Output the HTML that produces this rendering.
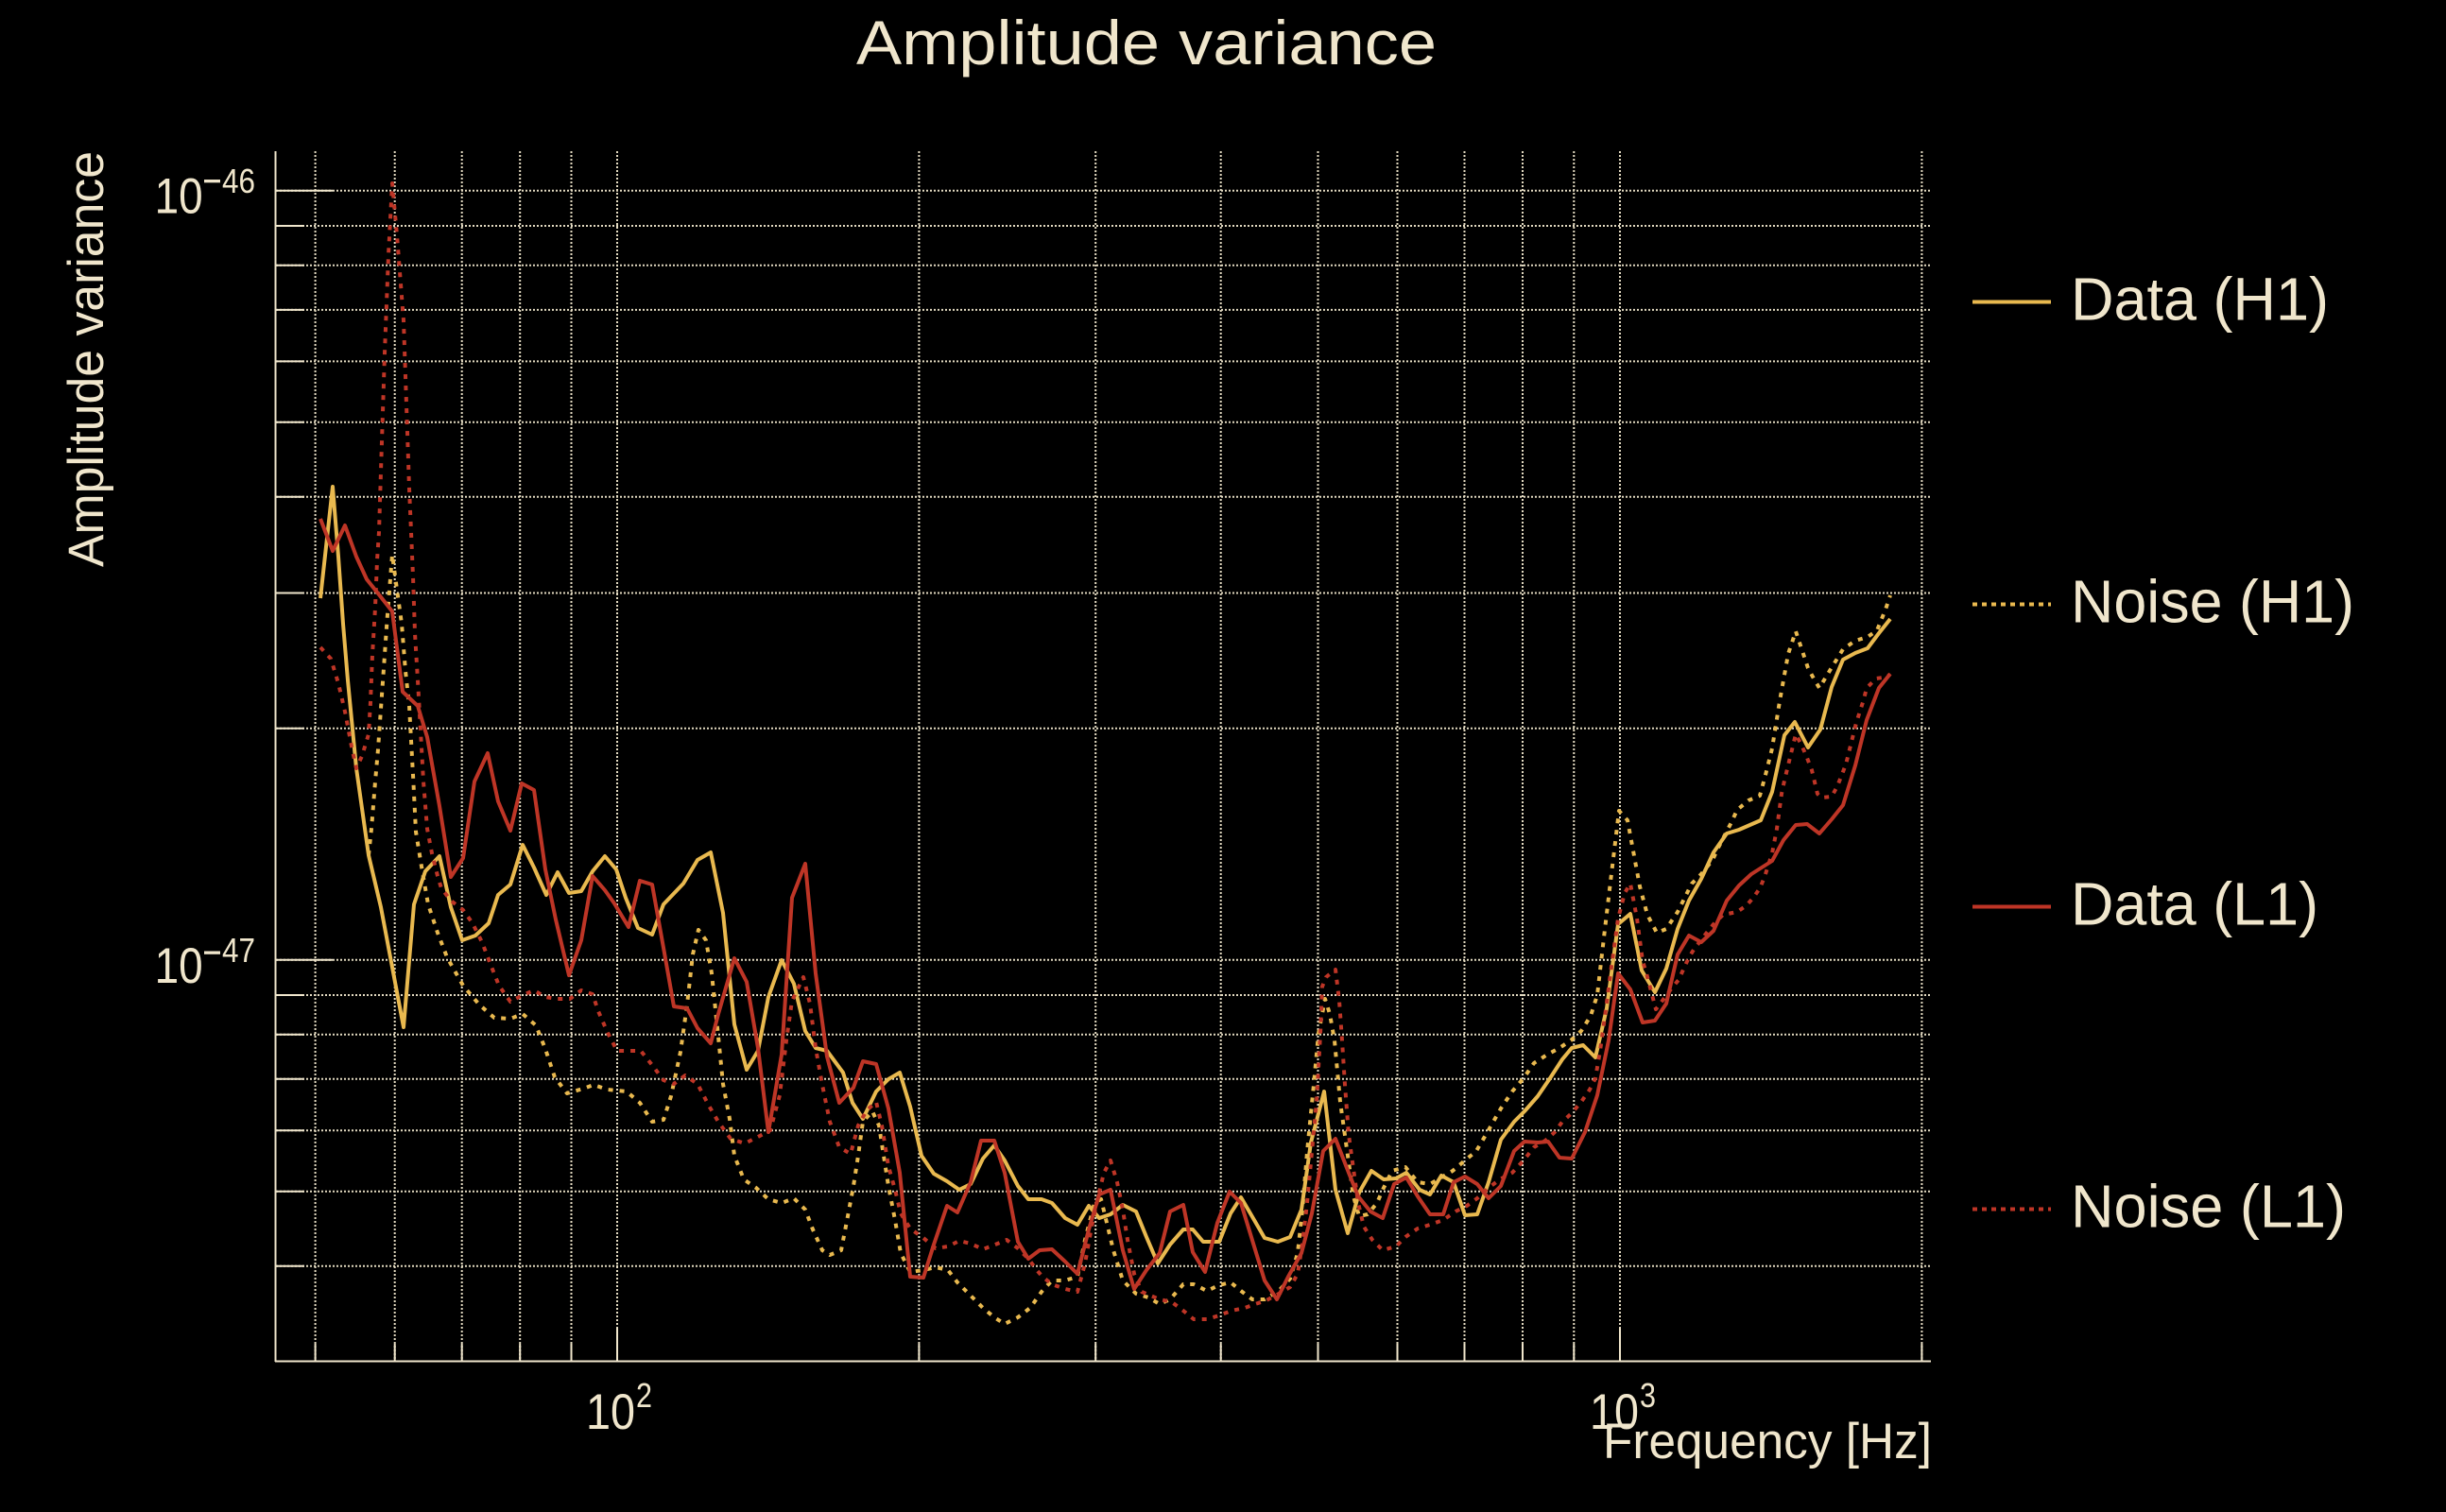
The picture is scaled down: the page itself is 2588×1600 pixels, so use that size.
<!DOCTYPE html>
<html><head><meta charset="utf-8"><style>
html,body{margin:0;padding:0;background:#000;}
svg{display:block;}
text{font-family:"Liberation Sans",Arial,sans-serif;fill:#F0E6CC;}
</style></head><body>
<svg width="2588" height="1600" viewBox="0 0 2588 1600" xmlns="http://www.w3.org/2000/svg">
<rect x="0" y="0" width="2588" height="1600" fill="#000"/>
<!-- title -->
<text x="906" y="68" font-size="66" textLength="614" lengthAdjust="spacingAndGlyphs">Amplitude variance</text>
<!-- grid -->
<g stroke="#F0E6CC" stroke-width="2" stroke-dasharray="2 2" fill="none" opacity="0.95">
<line x1="292" y1="201.8" x2="2043" y2="201.8"/>
<line x1="292" y1="239" x2="2043" y2="239"/>
<line x1="292" y1="280.7" x2="2043" y2="280.7"/>
<line x1="292" y1="327.9" x2="2043" y2="327.9"/>
<line x1="292" y1="382.4" x2="2043" y2="382.4"/>
<line x1="292" y1="446.8" x2="2043" y2="446.8"/>
<line x1="292" y1="525.8" x2="2043" y2="525.8"/>
<line x1="292" y1="627.5" x2="2043" y2="627.5"/>
<line x1="292" y1="770.7" x2="2043" y2="770.7"/>
<line x1="292" y1="1015.8" x2="2043" y2="1015.8"/>
<line x1="292" y1="1053" x2="2043" y2="1053"/>
<line x1="292" y1="1094.7" x2="2043" y2="1094.7"/>
<line x1="292" y1="1141.8" x2="2043" y2="1141.8"/>
<line x1="292" y1="1196.3" x2="2043" y2="1196.3"/>
<line x1="292" y1="1260.7" x2="2043" y2="1260.7"/>
<line x1="292" y1="1339.7" x2="2043" y2="1339.7"/>
<line x1="333.6" y1="160" x2="333.6" y2="1440"/>
<line x1="417.7" y1="160" x2="417.7" y2="1440"/>
<line x1="488.7" y1="160" x2="488.7" y2="1440"/>
<line x1="550.2" y1="160" x2="550.2" y2="1440"/>
<line x1="604.5" y1="160" x2="604.5" y2="1440"/>
<line x1="653" y1="160" x2="653" y2="1440"/>
<line x1="972.4" y1="160" x2="972.4" y2="1440"/>
<line x1="1159.2" y1="160" x2="1159.2" y2="1440"/>
<line x1="1291.7" y1="160" x2="1291.7" y2="1440"/>
<line x1="1394.5" y1="160" x2="1394.5" y2="1440"/>
<line x1="1478.5" y1="160" x2="1478.5" y2="1440"/>
<line x1="1549.5" y1="160" x2="1549.5" y2="1440"/>
<line x1="1611" y1="160" x2="1611" y2="1440"/>
<line x1="1665.3" y1="160" x2="1665.3" y2="1440"/>
<line x1="1714" y1="160" x2="1714" y2="1440"/>
<line x1="2033.4" y1="160" x2="2033.4" y2="1440"/>
</g>
<!-- spines and ticks -->
<g stroke="#F0E6CC" stroke-width="2" fill="none">
<line x1="291.5" y1="160" x2="291.5" y2="1441"/>
<line x1="291" y1="1440.5" x2="2043" y2="1440.5"/>
<line x1="292" y1="201.8" x2="352" y2="201.8"/>
<line x1="292" y1="1015.8" x2="352" y2="1015.8"/>
<line x1="292" y1="239" x2="322" y2="239"/>
<line x1="292" y1="280.7" x2="322" y2="280.7"/>
<line x1="292" y1="327.9" x2="322" y2="327.9"/>
<line x1="292" y1="382.4" x2="322" y2="382.4"/>
<line x1="292" y1="446.8" x2="322" y2="446.8"/>
<line x1="292" y1="525.8" x2="322" y2="525.8"/>
<line x1="292" y1="627.5" x2="322" y2="627.5"/>
<line x1="292" y1="770.7" x2="322" y2="770.7"/>
<line x1="292" y1="1053" x2="322" y2="1053"/>
<line x1="292" y1="1094.7" x2="322" y2="1094.7"/>
<line x1="292" y1="1141.8" x2="322" y2="1141.8"/>
<line x1="292" y1="1196.3" x2="322" y2="1196.3"/>
<line x1="292" y1="1260.7" x2="322" y2="1260.7"/>
<line x1="292" y1="1339.7" x2="322" y2="1339.7"/>
<line x1="653" y1="1440" x2="653" y2="1405"/>
<line x1="1714" y1="1440" x2="1714" y2="1405"/>
<line x1="333.6" y1="1440" x2="333.6" y2="1422"/>
<line x1="417.7" y1="1440" x2="417.7" y2="1422"/>
<line x1="488.7" y1="1440" x2="488.7" y2="1422"/>
<line x1="550.2" y1="1440" x2="550.2" y2="1422"/>
<line x1="604.5" y1="1440" x2="604.5" y2="1422"/>
<line x1="972.4" y1="1440" x2="972.4" y2="1422"/>
<line x1="1159.2" y1="1440" x2="1159.2" y2="1422"/>
<line x1="1291.7" y1="1440" x2="1291.7" y2="1422"/>
<line x1="1394.5" y1="1440" x2="1394.5" y2="1422"/>
<line x1="1478.5" y1="1440" x2="1478.5" y2="1422"/>
<line x1="1549.5" y1="1440" x2="1549.5" y2="1422"/>
<line x1="1611" y1="1440" x2="1611" y2="1422"/>
<line x1="1665.3" y1="1440" x2="1665.3" y2="1422"/>
<line x1="2033.4" y1="1440" x2="2033.4" y2="1422"/>
</g>
<!-- y tick labels -->
<text x="163.6" y="225.4" font-size="53" textLength="51" lengthAdjust="spacingAndGlyphs">10</text>
<rect x="216" y="190" width="17" height="3.3" fill="#F0E6CC"/>
<text x="235" y="203.8" font-size="36" textLength="35" lengthAdjust="spacingAndGlyphs">46</text>
<text x="163.6" y="1040" font-size="53" textLength="51" lengthAdjust="spacingAndGlyphs">10</text>
<rect x="216" y="1006.5" width="17" height="3.3" fill="#F0E6CC"/>
<text x="235" y="1018" font-size="36" textLength="35" lengthAdjust="spacingAndGlyphs">47</text>
<!-- x tick labels -->
<text x="620" y="1512" font-size="53" textLength="52" lengthAdjust="spacingAndGlyphs">10</text>
<text x="673" y="1489" font-size="36" textLength="17" lengthAdjust="spacingAndGlyphs">2</text>
<text x="1682" y="1512" font-size="53" textLength="52" lengthAdjust="spacingAndGlyphs">10</text>
<text x="1735" y="1489" font-size="36" textLength="17" lengthAdjust="spacingAndGlyphs">3</text>
<!-- axis labels -->
<text x="1696" y="1543" font-size="53" textLength="348" lengthAdjust="spacingAndGlyphs">Frequency [Hz]</text>
<text transform="translate(109,600) rotate(-90)" x="0" y="0" font-size="53" textLength="440" lengthAdjust="spacingAndGlyphs">Amplitude variance</text>

<!-- series -->
<g fill="none" stroke-width="4" stroke-linejoin="round" stroke-linecap="butt">
<!-- Data H1 -->
<polyline stroke="#E9B94F" points="339,633 352,515 358,589 363,660 368,720 377,813 390,905 403,960 427,1087 438,957 450,922 465,906 477,960 489,995 503,990 517,977 527,947 540,936 553,894 565,918 578,947 590,923 602,945 615,943 627,922 640,906 652,920 662,950 675,982 690,989 702,957 723,935 738,910 752,902 765,966 777,1084 790,1132 802,1112 813,1055 827,1016 840,1041 852,1091 863,1109 875,1112 892,1135 902,1167 913,1184 927,1155 940,1142 952,1135 963,1171 975,1223 988,1242 1002,1250 1015,1259 1027,1253 1040,1226 1052,1212 1063,1228 1077,1255 1088,1269 1102,1269 1113,1273 1127,1289 1140,1296 1152,1276 1163,1289 1175,1285 1188,1275 1202,1282 1213,1309 1225,1337 1238,1317 1252,1301 1262,1301 1273,1314 1290,1314 1302,1284 1313,1267 1327,1291 1338,1310 1352,1314 1365,1309 1377,1280 1387,1209 1401,1155 1413,1259 1426,1305 1438,1262 1451,1239 1464,1248 1477,1247 1488,1241 1502,1259 1513,1264 1525,1244 1538,1251 1550,1286 1563,1285 1575,1251 1588,1206 1602,1187 1613,1176 1627,1160 1640,1141 1653,1121 1663,1109 1675,1106 1688,1119 1700,1067 1712,978 1725,967 1737,1027 1751,1050 1763,1025 1775,983 1787,953 1800,930 1813,902 1827,882 1840,878 1863,868 1875,838 1888,778 1899,764 1913,791 1926,772 1938,727 1950,698 1963,691 1976,686 1988,670 2000,655"/>
<!-- Noise H1 -->
<polyline stroke="#E9B94F" stroke-dasharray="5 7" points="390,905 393,877 397,827 400,793 403,750 407,693 410,650 415,587 420,624 425,660 429,710 433,747 437,820 440,880 447,923 453,957 463,987 473,1013 490,1043 507,1063 523,1077 540,1078 553,1073 567,1085 577,1110 587,1140 600,1157 617,1152 628,1148 643,1153 663,1155 677,1167 690,1187 702,1185 710,1160 720,1113 727,1063 733,1010 739,984 747,995 753,1030 760,1097 765,1147 772,1184 777,1223 787,1248 800,1257 813,1269 827,1273 840,1268 852,1280 860,1301 870,1323 878,1328 890,1323 897,1287 903,1255 908,1223 913,1187 923,1176 930,1191 935,1223 940,1255 947,1291 953,1326 963,1346 977,1344 990,1341 1003,1344 1013,1357 1027,1371 1040,1384 1052,1394 1063,1401 1077,1394 1090,1384 1102,1367 1113,1355 1127,1355 1140,1351 1148,1312 1158,1273 1165,1269 1172,1298 1178,1323 1188,1355 1202,1369 1215,1373 1227,1380 1238,1375 1252,1359 1263,1359 1277,1366 1290,1360 1302,1357 1313,1366 1325,1375 1338,1375 1353,1366 1365,1353 1373,1326 1378,1280 1383,1219 1390,1148 1395,1094 1402,1057 1407,1073 1412,1101 1418,1166 1427,1230 1432,1266 1438,1287 1447,1285 1457,1273 1463,1259 1473,1239 1487,1235 1500,1251 1513,1253 1525,1246 1537,1239 1550,1228 1562,1218 1572,1201 1580,1187 1588,1173 1600,1155 1612,1141 1623,1125 1637,1116 1650,1109 1662,1101 1673,1091 1683,1075 1690,1053 1697,992 1704,933 1713,858 1722,868 1735,938 1743,968 1753,987 1763,983 1775,965 1790,935 1800,925 1812,910 1818,897 1832,870 1838,857 1850,847 1862,842 1868,820 1875,792 1883,742 1892,692 1900,668 1908,692 1913,707 1919,718 1925,728 1937,708 1950,687 1963,678 1976,674 1986,667 1995,645 2000,630"/>
<!-- Data L1 -->
<polyline stroke="#BE3526" points="339,549 352,583 365,556 377,589 388,613 400,628 415,647 426,732 442,747 452,780 465,853 477,928 490,908 502,827 516,797 527,848 540,879 552,829 565,836 577,920 588,973 602,1032 615,995 627,927 640,942 650,956 665,981 677,932 690,936 702,1003 713,1065 727,1067 738,1088 752,1104 760,1073 777,1014 790,1039 802,1109 813,1198 827,1116 838,950 852,914 863,1030 875,1118 888,1167 903,1151 913,1123 927,1126 940,1173 952,1241 963,1351 977,1352 988,1317 1002,1276 1013,1283 1027,1251 1038,1207 1052,1207 1063,1241 1077,1314 1088,1332 1100,1323 1113,1322 1127,1335 1140,1348 1152,1301 1163,1264 1175,1259 1188,1323 1200,1364 1213,1344 1227,1326 1238,1282 1252,1275 1262,1325 1275,1346 1288,1294 1301,1261 1313,1273 1327,1319 1338,1355 1351,1375 1363,1351 1377,1326 1388,1284 1400,1218 1413,1205 1427,1241 1437,1266 1450,1282 1463,1289 1475,1253 1488,1246 1500,1266 1513,1285 1527,1285 1538,1251 1550,1245 1563,1253 1575,1268 1588,1255 1602,1218 1613,1208 1627,1209 1638,1208 1650,1225 1663,1226 1677,1198 1690,1159 1702,1101 1712,1030 1725,1047 1738,1082 1751,1080 1763,1062 1775,1010 1787,990 1800,997 1813,985 1827,953 1840,937 1853,925 1875,911 1887,889 1900,873 1912,872 1925,882 1938,867 1950,852 1963,810 1975,762 1988,728 2000,713"/>
<!-- Noise L1 -->
<polyline stroke="#BE3526" stroke-dasharray="5 7" points="339,685 350,697 358,723 365,753 372,790 377,813 383,800 390,777 392,743 394,693 397,643 399,593 401,563 403,499 407,374 411,270 415,194 420,249 427,339 430,428 433,517 435,563 437,610 439,670 442,720 445,773 448,827 452,877 457,903 463,927 467,940 477,953 490,963 500,977 510,997 520,1023 528,1043 540,1060 553,1053 565,1048 577,1055 590,1057 603,1057 615,1048 627,1052 633,1070 643,1093 653,1112 667,1112 678,1112 690,1127 702,1143 713,1147 725,1138 738,1147 750,1170 760,1187 773,1205 788,1210 802,1203 815,1196 825,1159 832,1101 838,1059 850,1034 857,1062 863,1109 870,1148 878,1187 888,1214 900,1221 908,1191 917,1175 927,1166 933,1191 940,1234 947,1259 953,1284 963,1300 977,1310 990,1321 1003,1319 1015,1313 1027,1316 1040,1322 1053,1317 1065,1312 1077,1321 1088,1332 1097,1344 1103,1351 1113,1359 1127,1364 1140,1367 1148,1337 1155,1298 1162,1266 1168,1241 1175,1228 1182,1251 1188,1280 1193,1312 1200,1348 1208,1367 1227,1375 1240,1378 1252,1387 1263,1396 1277,1396 1290,1392 1303,1387 1317,1384 1328,1380 1340,1376 1353,1369 1365,1362 1373,1348 1378,1316 1383,1273 1388,1219 1393,1166 1397,1094 1399,1044 1403,1034 1413,1026 1417,1059 1420,1101 1423,1148 1427,1201 1432,1237 1437,1273 1443,1298 1452,1312 1463,1323 1477,1319 1487,1309 1500,1300 1513,1296 1527,1291 1540,1282 1552,1276 1563,1268 1575,1257 1587,1248 1600,1241 1612,1228 1623,1214 1635,1207 1645,1198 1653,1187 1663,1178 1673,1166 1682,1153 1688,1141 1693,1112 1698,1076 1705,1023 1712,972 1719,945 1725,935 1732,972 1738,1017 1742,1030 1752,1068 1767,1048 1776,1037 1787,1013 1792,1005 1805,988 1813,978 1823,968 1838,965 1848,958 1855,950 1862,940 1867,928 1875,903 1880,877 1885,840 1888,826 1900,777 1906,788 1912,802 1917,815 1923,840 1927,844 1938,843 1944,832 1953,809 1959,785 1964,765 1972,740 1975,728 1985,718 1992,717 2000,714"/>
</g>

<!-- legend -->
<g stroke-width="4" fill="none">
<line x1="2087" y1="319.5" x2="2170" y2="319.5" stroke="#E9B94F"/>
<line x1="2087" y1="639.5" x2="2170" y2="639.5" stroke="#E9B94F" stroke-dasharray="5 5"/>
<line x1="2087" y1="959.5" x2="2170" y2="959.5" stroke="#BE3526"/>
<line x1="2087" y1="1279.5" x2="2170" y2="1279.5" stroke="#BE3526" stroke-dasharray="5 5"/>
</g>
<text x="2191" y="338.3" font-size="64" textLength="273" lengthAdjust="spacingAndGlyphs">Data (H1)</text>
<text x="2191" y="658.3" font-size="64" textLength="300" lengthAdjust="spacingAndGlyphs">Noise (H1)</text>
<text x="2191" y="978.3" font-size="64" textLength="262" lengthAdjust="spacingAndGlyphs">Data (L1)</text>
<text x="2191" y="1298.3" font-size="64" textLength="291" lengthAdjust="spacingAndGlyphs">Noise (L1)</text>
</svg>
</body></html>
